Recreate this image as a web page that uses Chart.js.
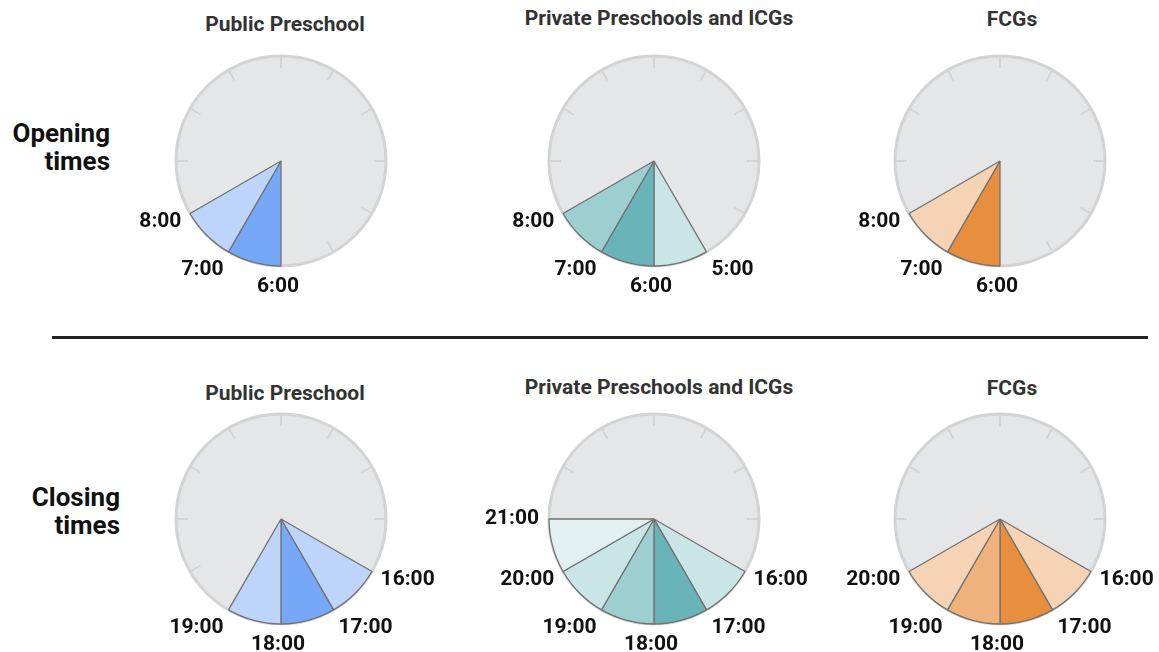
<!DOCTYPE html>
<html>
<head>
<meta charset="utf-8">
<title>Opening and closing times</title>
<script src="https://cdn.jsdelivr.net/npm/chart.js@4/dist/chart.umd.min.js"></script>
<style>
  html, body { margin: 0; padding: 0; background: #ffffff; }
  body { width: 1159px; height: 652px; position: relative; overflow: hidden;
         font-family: Roboto, "Noto Sans", "DejaVu Sans", sans-serif; }
  .title { position: absolute; transform: translate(-50%, -50%); font-weight: 700;
           font-size: 21px; color: #333333; white-space: nowrap; }
  .row { position: absolute; transform: translateY(-50%); text-align: right;
         font-weight: 700; font-size: 26px; line-height: 28px; color: #111111; white-space: nowrap; }
  .clock { position: absolute; }
  .rule { position: absolute; left: 52px; width: 1096px; top: 336px; height: 3px; background: #222222; }
</style>
</head>
<body>
<div class="rule"></div>
<script>
// Provider groups (columns) and the two rows of dials
const providers = ['Public Preschool', 'Private Preschools and ICGs', 'FCGs'];
const rowLabels = [['Opening', 'times'], ['Closing', 'times']];

// Hour marks bounding the shaded slices of each dial (24h clock)
const openingHours = [[6, 7, 8], [5, 6, 7, 8], [6, 7, 8]];
const closingHours = [[16, 17, 18, 19], [16, 17, 18, 19, 20, 21], [16, 17, 18, 19, 20]];

// Shade level of each slice between consecutive marks (0 = palest, 3 = strongest)
const openingShades = [[3, 1], [1, 3, 2], [3, 1]];
const closingShades = [[1, 3, 1], [1, 3, 2, 1, 0], [1, 3, 2, 1]];

// Colour ramps per provider, palest to strongest
const bluePalette = ['#e3edfd', '#bdd5fb', '#9bbffa', '#77a8f8'];
const tealPalette = ['#e1f0f0', '#cae5e6', '#9ecfd0', '#69b4b8'];
const orangePalette = ['#fae6d4', '#f6d3b4', '#f0b27d', '#e78f3e'];
const palettes = [bluePalette, tealPalette, orangePalette];

// The twelve positions of the clock face
const dialLabels = ['12', '1', '2', '3', '4', '5', '6', '7', '8', '9', '10', '11'];

// Layout of the grid of dials
const colCenters = [281, 654, 1000];
const rowCenters = [161, 519];
const titleSpots = [
  [[285, 24], [659, 18], [1012, 19]],
  [[285, 393], [659, 387], [1012, 388]]
];
const rowLabelSpots = [[110, 147], [120, 511]];

const CANVAS_W = 351, CANVAS_H = 301, PAD_X = 70, PAD_Y = 45;

// Draws the hour ticks under the slices and the hour captions around the rim
const dialPlugin = {
  id: 'dial',
  beforeDatasetsDraw(chart) {
    const s = chart.scales.r, c = chart.ctx, R = s.drawingArea;
    c.save();
    c.strokeStyle = '#d3d3d3';
    c.lineWidth = 2;
    for (let i = 0; i < dialLabels.length; i++) {
      const a = s.getPointPosition(i, R);
      const b = s.getPointPosition(i, R - 12);
      c.beginPath();
      c.moveTo(a.x, a.y);
      c.lineTo(b.x, b.y);
      c.stroke();
    }
    c.restore();
  },
  afterDatasetsDraw(chart, args, opts) {
    const s = chart.scales.r, c = chart.ctx, R = s.drawingArea;
    c.save();
    c.font = '700 21px Roboto, "Noto Sans", sans-serif';
    c.fillStyle = '#111111';
    c.textBaseline = 'middle';
    (opts.hours || []).forEach(h => {
      const p = s.getPointPosition(h % 12, R + 10);
      const ux = Math.cos(p.angle), uy = Math.sin(p.angle);
      c.textAlign = Math.abs(ux) < 0.1 ? 'center' : (ux < 0 ? 'right' : 'left');
      const x = Math.abs(ux) < 0.1 ? p.x - 3 : p.x;
      const dy = uy * 6 + 10 * Math.max(0, uy - 0.5);
      c.fillText(h + ':00', x, p.y + dy);
    });
    c.restore();
  }
};

function buildDial(hours, shades, palette) {
  const values = dialLabels.map(() => 0);
  const colors = dialLabels.map(() => 'rgba(0,0,0,0)');
  for (let k = 0; k < shades.length; k++) {
    const idx = hours[k] % 12;
    values[idx] = 1;
    colors[idx] = palette[shades[k]];
  }
  return { values, colors };
}

function addText(cls, html, x, y, extra) {
  const d = document.createElement('div');
  d.className = cls;
  d.innerHTML = html;
  d.style.left = x + 'px';
  d.style.top = y + 'px';
  if (extra) Object.assign(d.style, extra);
  document.body.appendChild(d);
}

[[openingHours, openingShades], [closingHours, closingShades]].forEach(([hoursSet, shadeSet], row) => {
  const [rx, ry] = rowLabelSpots[row];
  addText('row', rowLabels[row].join('<br>'), 0, ry, { left: 'auto', right: (1159 - rx) + 'px' });

  providers.forEach((name, col) => {
    const [tx, ty] = titleSpots[row][col];
    addText('title', name, tx, ty);

    const canvas = document.createElement('canvas');
    canvas.className = 'clock';
    canvas.width = CANVAS_W;
    canvas.height = CANVAS_H;
    canvas.style.width = CANVAS_W + 'px';
    canvas.style.height = CANVAS_H + 'px';
    canvas.style.left = (colCenters[col] - 175) + 'px';
    canvas.style.top = (rowCenters[row] - 150) + 'px';
    document.body.appendChild(canvas);

    const dial = buildDial(hoursSet[col], shadeSet[col], palettes[col]);

    new Chart(canvas, {
      type: 'polarArea',
      data: {
        labels: dialLabels,
        datasets: [{
          data: dial.values,
          backgroundColor: dial.colors,
          borderColor: '#727272',
          borderWidth: ctx => (dial.values[ctx.dataIndex] ? 1.3 : 0)
        }]
      },
      options: {
        responsive: false,
        animation: false,
        devicePixelRatio: 1,
        layout: { padding: { left: PAD_X, right: PAD_X, top: PAD_Y, bottom: PAD_Y } },
        plugins: {
          legend: { display: false },
          tooltip: { enabled: false },
          dial: { hours: hoursSet[col] }
        },
        scales: {
          r: {
            min: 0,
            max: 1,
            backgroundColor: '#e5e6e8',
            ticks: { display: false, stepSize: 1 },
            grid: { circular: true, color: '#d3d3d3', lineWidth: 3 },
            angleLines: { display: false },
            pointLabels: { display: false }
          }
        }
      },
      plugins: [dialPlugin]
    });
  });
});
</script>
</body>
</html>
